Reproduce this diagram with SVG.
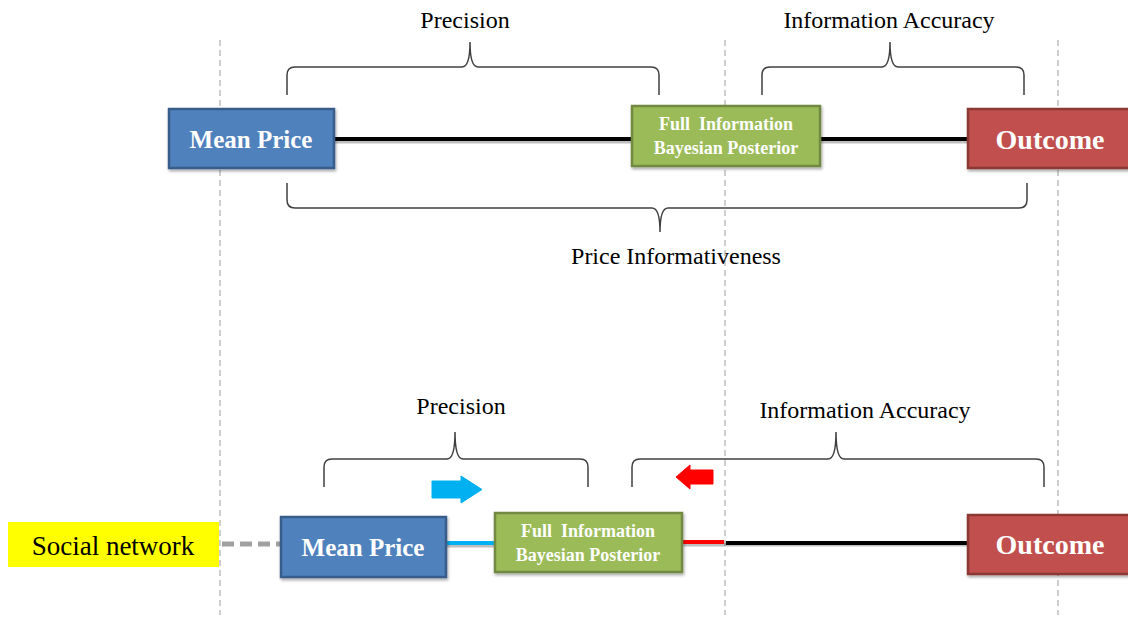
<svg xmlns="http://www.w3.org/2000/svg" width="1128" height="618" viewBox="0 0 1128 618">
<defs>
<filter id="sh" x="-10%" y="-20%" width="130%" height="150%">
<feDropShadow dx="1" dy="2" stdDeviation="1.5" flood-color="#000" flood-opacity="0.35"/>
</filter>
<style>
.vd{stroke:#BFBFBF;stroke-width:1.5;stroke-dasharray:6 4;fill:none}
.br{stroke:#404040;stroke-width:1.5;fill:none}
.lbl{font-family:"Liberation Serif","Times New Roman",serif;font-size:24px;fill:#000;text-anchor:middle}
.blue{fill:#4F81BD;stroke:#385D8A;stroke-width:2.5}
.green{fill:#9BBB59;stroke:#71893F;stroke-width:2.5}
.red{fill:#C0504D;stroke:#8C3836;stroke-width:2.5}
.bt{font-family:"Liberation Serif","Times New Roman",serif;font-weight:bold;fill:#fff;text-anchor:middle}
.mp{font-size:25px}
.oc{font-size:28px}
.fi{font-size:18px;white-space:pre}
.shd{stroke:#000;stroke-opacity:0.25;stroke-width:4}
</style>
</defs>
<rect width="1128" height="618" fill="#fff"/>
<g id="guides">
<line class="vd" x1="220" y1="40" x2="220" y2="615"/>
<line class="vd" x1="725" y1="40" x2="725" y2="615"/>
<line class="vd" x1="1058" y1="40" x2="1058" y2="615"/>
</g>
<g id="connectors">
<line class="shd" x1="335" y1="141.5" x2="968" y2="141.5"/>
<line x1="334" y1="139" x2="968" y2="139" stroke="#000" stroke-width="4"/>
<line x1="222" y1="544" x2="281" y2="544" stroke="#A0A0A0" stroke-width="5" stroke-dasharray="12 6"/>
<line class="shd" x1="447" y1="545.5" x2="495" y2="545.5"/>
<line x1="446" y1="543" x2="495" y2="543" stroke="#00B0F0" stroke-width="4"/>
<line class="shd" x1="683" y1="544.5" x2="968" y2="544.5"/>
<line x1="682" y1="542" x2="724" y2="542" stroke="#FF0000" stroke-width="4"/>
<line x1="726" y1="543" x2="968" y2="543" stroke="#000" stroke-width="4"/>
</g>
<g id="braces">
<path class="br" d="M287,95 V75 Q287,67 295,67 H462 Q470,67 470,42 Q470,67 478,67 H651 Q659,67 659,75 V95"/>
<path class="br" d="M762,95 V75 Q762,67 770,67 H882 Q890,67 890,42 Q890,67 898,67 H1016 Q1024,67 1024,75 V95"/>
<path class="br" d="M287,183 V200 Q287,208 295,208 H652 Q660,208 660,232 Q660,208 668,208 H1019 Q1027,208 1027,200 V183"/>
<path class="br" d="M324,487 V467 Q324,459 332,459 H447 Q455,459 455,432 Q455,459 463,459 H580 Q588,459 588,467 V487"/>
<path class="br" d="M632,487 V467 Q632,459 640,459 H828 Q836,459 836,432 Q836,459 844,459 H1036 Q1044,459 1044,467 V487"/>
</g>
<g id="labels">
<text class="lbl" x="465" y="28">Precision</text>
<text class="lbl" x="889" y="28">Information Accuracy</text>
<text class="lbl" x="676" y="264">Price Informativeness</text>
<text class="lbl" x="461" y="414">Precision</text>
<text class="lbl" x="865" y="418">Information Accuracy</text>
</g>
<g id="arrows">
<path d="M432,481 H461 V476 L482,489.5 L461,503 V498 H432 Z" fill="#00B0F0" stroke="#00B0F0" stroke-width="1" stroke-linejoin="round"/>
<path d="M713,470 H690 V465 L676,477 L690,489 V484 H713 Z" fill="#FF0000" stroke="#FF0000" stroke-width="1" stroke-linejoin="round"/>
</g>
<g id="top-mean-price">
<rect class="blue" x="169" y="109" width="165" height="59" filter="url(#sh)"/>
<text class="bt mp" x="251" y="148">Mean Price</text>
</g>
<g id="top-posterior">
<rect class="green" x="632" y="106" width="188" height="60" filter="url(#sh)"/>
<text class="bt fi" x="726" y="130" xml:space="preserve">Full  Information</text>
<text class="bt fi" x="726" y="154">Bayesian Posterior</text>
</g>
<g id="top-outcome">
<rect class="red" x="968" y="109" width="170" height="59" filter="url(#sh)"/>
<text class="bt oc" x="1050" y="149">Outcome</text>
</g>
<g id="social-network">
<rect x="8" y="522" width="211" height="45" fill="#FFFF00"/>
<text x="113" y="555" font-family="Liberation Serif, Times New Roman, serif" font-size="27" text-anchor="middle" fill="#000">Social network</text>
</g>
<g id="bottom-mean-price">
<rect class="blue" x="281" y="517" width="165" height="60" filter="url(#sh)"/>
<text class="bt mp" x="363" y="556">Mean Price</text>
</g>
<g id="bottom-posterior">
<rect class="green" x="495" y="513" width="187" height="59" filter="url(#sh)"/>
<text class="bt fi" x="588" y="537" xml:space="preserve">Full  Information</text>
<text class="bt fi" x="588" y="561">Bayesian Posterior</text>
</g>
<g id="bottom-outcome">
<rect class="red" x="968" y="515" width="170" height="59" filter="url(#sh)"/>
<text class="bt oc" x="1050" y="554">Outcome</text>
</g>
</svg>
